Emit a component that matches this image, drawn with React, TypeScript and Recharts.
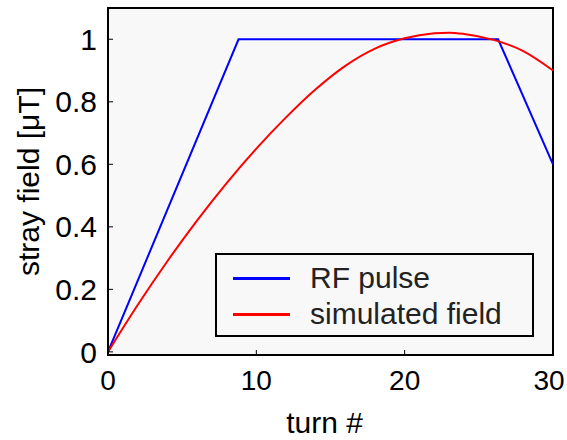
import { Legend, Line, LineChart, ReferenceArea, XAxis, YAxis } from "recharts";

// turn # vs stray field [μT]
const pulseTurns = [0, 8.8, 26.3, 30];
const pulseField = [0, 1, 1, 0.6];

const simTurns = [0, 2, 4, 6, 8, 10, 12, 14, 16, 18, 20, 22, 23, 24, 26, 28, 30];
const simField = [0, 0.15, 0.29, 0.42, 0.54, 0.65, 0.75, 0.84, 0.915, 0.97, 1.003, 1.019, 1.021, 1.017, 0.998, 0.962, 0.9];

const xTicks = [0, 10, 20, 30];
const yTicks = [0, 0.2, 0.4, 0.6, 0.8, 1];

const pulseData = pulseTurns.map((t, i) => ({ t, v: pulseField[i] }));
const simData = simTurns.map((t, i) => ({ t, v: simField[i] }));

const FONT = "'Liberation Sans', Arial, sans-serif";

const series = [
	{ name: "RF pulse", color: "#0000ff" },
	{ name: "simulated field", color: "#ff0000" },
];

function LegendBox() {
	return (
		<div
			style={{
				boxSizing: "border-box",
				width: 319,
				height: 84,
				border: "2px solid #000",
				background: "#f8f8f8",
				fontFamily: FONT,
				fontSize: 30,
				color: "#222",
				paddingTop: 5,
			}}
		>
			{series.map((s) => (
				<div key={s.name} style={{ display: "flex", alignItems: "center", height: 36 }}>
					<div style={{ width: 57, height: 3, background: s.color, marginLeft: 16, marginRight: 20 }} />
					<span style={{ lineHeight: "36px" }}>{s.name}</span>
				</div>
			))}
		</div>
	);
}

// keeps the last label inside the picture, as the original does
function XTick(props: any) {
	const { x, y, payload } = props;
	const shift = payload.value === xTicks[xTicks.length - 1] ? -4 : 0;
	return (
		<text x={x + shift} y={y} dy="0.71em" textAnchor="middle" fontSize={28} fill="#000" fontFamily={FONT}>
			{payload.value}
		</text>
	);
}

export default function App() {
	return (
		<div style={{ position: "absolute", left: 0, top: 0, background: "#fff", fontFamily: FONT }}>
			<LineChart width={567} height={440} margin={{ top: 8, right: 14, bottom: 0, left: 0 }}>
				<ReferenceArea x1={0} x2={30} y1={-0.01} y2={1.1} fill="#f8f8f8" fillOpacity={1} stroke="#000" strokeWidth={2} />
				<XAxis
					type="number"
					dataKey="t"
					domain={[0, 30]}
					ticks={xTicks}
					height={85}
					tickSize={-5}
					tickMargin={20}
					axisLine={{ stroke: "#000", strokeWidth: 2 }}
					tickLine={{ stroke: "#000" }}
					tick={<XTick />}
					label={{ value: "turn #", position: "insideBottom", offset: 7, dx: -6, fontSize: 30, fill: "#000", fontFamily: FONT }}
				/>
				<YAxis
					type="number"
					domain={[-0.01, 1.1]}
					ticks={yTicks}
					width={108}
					tickSize={-5}
					tickMargin={16}
					axisLine={{ stroke: "#000", strokeWidth: 2 }}
					tickLine={{ stroke: "#000" }}
					tick={{ fontSize: 30, fill: "#000", fontFamily: FONT }}
					label={{
						value: "stray field [μT]",
						angle: -90,
						position: "insideLeft",
						offset: 28,
						style: { textAnchor: "middle" },
						fontSize: 30,
						fill: "#000",
						fontFamily: FONT,
					}}
				/>
				<YAxis
					yAxisId="right"
					orientation="right"
					type="number"
					domain={[-0.01, 1.1]}
					ticks={yTicks}
					width={0}
					tickSize={-5}
					axisLine={{ stroke: "#000", strokeWidth: 2 }}
					tickLine={{ stroke: "#000" }}
					tickFormatter={() => ""}
				/>
				<Legend
					layout="horizontal"
					verticalAlign="middle"
					content={() => <LegendBox />}
					wrapperStyle={{ left: 215, top: 253, width: 319, height: 84 }}
				/>
				<Line data={pulseData} dataKey="v" name="RF pulse" type="linear" stroke="#0000ff" strokeWidth={2} dot={false} isAnimationActive={false} />
				<Line data={simData} dataKey="v" name="simulated field" type="monotone" stroke="#ff0000" strokeWidth={2} dot={false} isAnimationActive={false} />
			</LineChart>
		</div>
	);
}
